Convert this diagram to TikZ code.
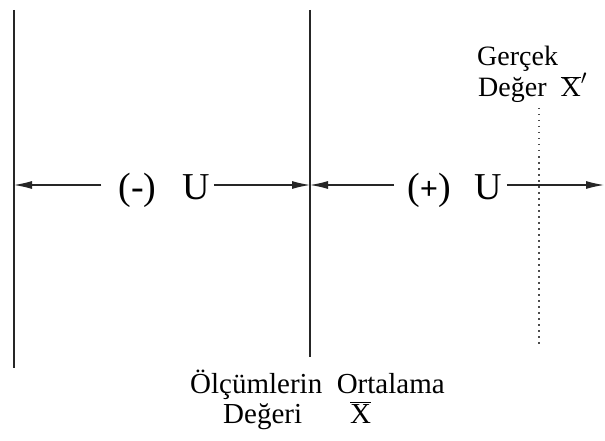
\documentclass[tikz,border=0pt]{standalone}
\usepackage{fontspec}
\setmainfont{Liberation Serif}
\usetikzlibrary{arrows.meta}

\begin{document}
\begin{tikzpicture}[x=1pt,y=-1pt,>={Latex[length=18pt,width=8pt]},
    lbl/.style={font=\fontsize{38}{40}\selectfont,inner sep=0pt,anchor=base},
    note/.style={font=\fontsize{28}{30}\selectfont,inner sep=0pt,anchor=base west},
    bar/.style={line width=1.1pt,black!85},
    arr/.style={line width=1.1pt,black!85,->}]
  \useasboundingbox (0,0) rectangle (605,441);
  % the two solid bounds and the dotted true value
  \coordinate (ltop) at (14,10);   \coordinate (lbot) at (14,368);
  \coordinate (mtop) at (310,10);  \coordinate (mbot) at (310,357);
  \coordinate (dtop) at (539,108); \coordinate (dbot) at (539,345);
  \draw[bar] (ltop) -- (lbot);
  \draw[bar] (mtop) -- (mbot);
  \draw[line width=1.5pt,black!70,dash pattern=on 1.5pt off 4.5pt] (dtop) -- (dbot);

  % where the arrows end
  \coordinate (lhit) at (14,185);
  \coordinate (mhit) at (310,185);
  \coordinate (rend) at (604,185);

  % uncertainty labels on the row
  \node[lbl] (minus) at (137.5,199) {(-)};
  \node[lbl] (uneg)  at (196,199) {U};
  \node[lbl] (plus)  at (429,199)
    {({\fontsize{32}{34}\selectfont\bfseries +})};
  \node[lbl] (upos)  at (488,199) {U};

  \draw[arr,shorten <=17pt] (minus.west |- lhit) -- (lhit);
  \draw[arr,shorten <=4pt]  (uneg.east |- mhit) -- (mhit);
  \draw[arr,shorten <=13pt] (plus.west |- mhit) -- (mhit);
  \draw[arr,shorten <=5pt]  (upos.east |- rend) -- (rend);

  % captions
  \node[note] (true1) at (477,66) {Gerçek};
  \node[note] (true2) at (478,97) {Değer\hskip 14pt$\overline{\hbox{X}}'$};
  \node[note,font=\fontsize{29}{31}\selectfont] (mean1) at (190,393)
    {Ölçümlerin\ \ Ortalama};
  \node[note,font=\fontsize{29}{31}\selectfont] (mean2) at (223,423)
    {Değeri\hskip 48pt$\overline{\hbox{X}}$};
\end{tikzpicture}
\end{document}
